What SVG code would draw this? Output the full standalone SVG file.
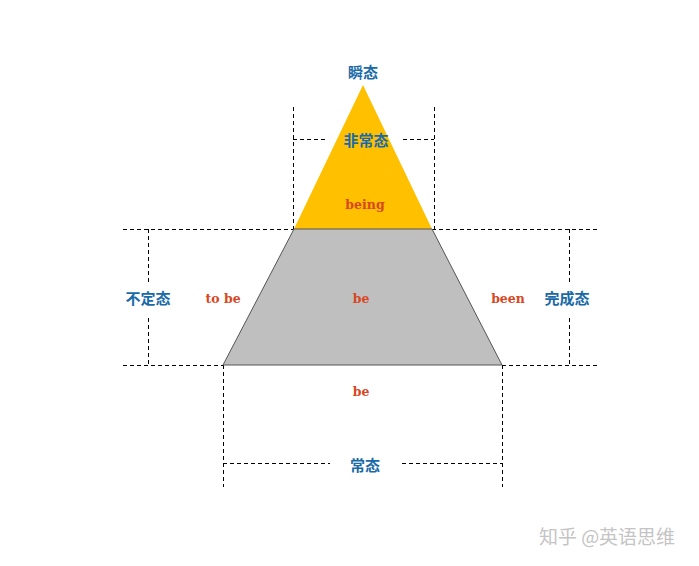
<svg xmlns="http://www.w3.org/2000/svg" width="699" height="566" viewBox="0 0 699 566">
<style>
.d{stroke:#000;stroke-width:1;stroke-dasharray:4,3;fill:none}
.cn{font-family:"Noto Sans CJK SC",sans-serif;font-size:15px;fill:#1a6aa8;text-anchor:middle;font-weight:bold}
.en{font-family:"DejaVu Serif",serif;font-size:12.5px;fill:#d8471f;text-anchor:middle;font-weight:bold}
.wm{font-family:"Noto Sans CJK SC",sans-serif;font-size:19px;fill:#c4c4c4;text-anchor:middle}
</style>
<rect width="699" height="566" fill="#fff"/>
<g id="connectors">
<path class="d" d="M293.5 107V229M434.5 107V229M293 139.5H328M403 139.5H434"/>
<path class="d" d="M123 229.5H294M432 229.5H600M123 365.5H223M502 365.5H600"/>
<path class="d" d="M148.5 229V283M148.5 318V365M569.5 229V283M569.5 318V365"/>
<path class="d" d="M223.5 365V487M502.5 365V487M223 463.5H330M402 463.5H502"/>
</g>
<g id="triangle">
<polygon points="363,85 294,229 432,229" fill="#ffc000"/>
<text class="cn" x="363" y="78">瞬态</text>
<text class="cn" x="366" y="146">非常态</text>
<text class="en" x="365" y="209">being</text>
</g>
<g id="trapezoid">
<polygon points="294,229 432,229 502,365 223,365" fill="#bfbfbf" stroke="#555" stroke-width="1"/>
<text class="en" x="361" y="303">be</text>
</g>
<g id="labels">
<text class="cn" x="148" y="304">不定态</text>
<text class="en" x="223" y="303">to be</text>
<text class="en" x="508" y="303">been</text>
<text class="cn" x="567" y="304">完成态</text>
<text class="en" x="361" y="396">be</text>
<text class="cn" x="365" y="471">常态</text>
</g>
<text class="wm" x="607" y="544">知乎 @英语思维</text>
</svg>
